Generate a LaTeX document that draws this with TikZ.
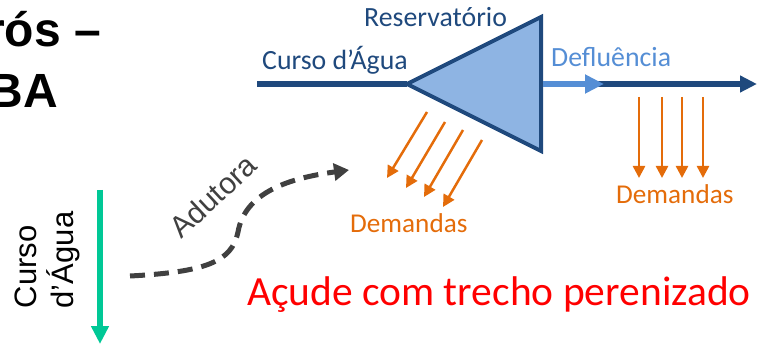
\documentclass[tikz,border=0pt]{standalone}
\usepackage{fontspec}
\setmainfont{Carlito}
\newfontfamily\arialf{Liberation Sans}
\usetikzlibrary{arrows.meta}
\definecolor{dkblue}{RGB}{31,73,125}
\definecolor{trifill}{RGB}{142,180,227}
\definecolor{ltblue}{RGB}{85,142,213}
\definecolor{dmorange}{RGB}{228,108,10}
\definecolor{mint}{RGB}{0,200,150}
\definecolor{dgray}{RGB}{64,64,64}
\tikzset{
  lbl/.style={inner sep=0pt, anchor=base west},
  cal/.style={font=\fontsize{27.8}{30}\selectfont},
  demarrow/.style={dmorange, line width=2.5pt, -{Triangle[length=12pt,width=12pt]}},
}
\begin{document}
\begin{tikzpicture}[x=1pt,y=-1pt]
\useasboundingbox (0,0) rectangle (767,347);
\clip (0,0) rectangle (767,347);
% title fragment
\node[inner sep=0pt, anchor=base east, font=\arialf\bfseries\fontsize{48}{48}\selectfont] (t1) at (101,47) {rós –};
\node[inner sep=0pt, anchor=base east, font=\arialf\bfseries\fontsize{48}{48}\selectfont] (t2) at (58,108) {BA};
% reservoir
\coordinate (L) at (407,84);
\coordinate (TR) at (541,17);
\coordinate (BR) at (541,151);
\coordinate (W) at (257,84);
\coordinate (E0) at (598,84);
\coordinate (E1) at (757,84);
\coordinate (D0) at (543,84);
\coordinate (D1) at (604,84);
\draw[dkblue, line width=6pt] (W) -- (L);
\filldraw[fill=trifill, draw=dkblue, line width=4pt, line join=miter] (L) -- (TR) -- (BR) -- cycle;
\draw[dkblue, line width=6pt, -{Triangle[length=17pt,width=16pt]}] (E0) -- (E1);
\draw[ltblue, line width=6pt, -{Triangle[length=19pt,width=18pt]}] (D0) -- (D1);
\node[lbl, cal, text=dkblue] (curso) at (262,70) {Curso d’Água};
\node[lbl, cal, text=dkblue] (res) at (364,27) {Reservatório};
\node[lbl, cal, text=ltblue] (defl) at (551,67) {Defluência};
% demand arrows left
\foreach \i/\sx/\sy/\ex/\ey in {1/427/112/387/178, 2/445/122/406/188, 3/463/130/424/197, 4/482/140/443/207}{
  \coordinate (ls\i) at (\sx,\sy);
  \coordinate (le\i) at (\ex,\ey);
  \draw[demarrow] (ls\i) -- (le\i);
}
\node[lbl, font=\fontsize{27.2}{30}\selectfont, text=dmorange] (dem1) at (350,232) {Demandas};
% demand arrows right
\foreach \i/\x in {1/639, 2/662, 3/682, 4/703}{
  \coordinate (rs\i) at (\x,97);
  \coordinate (re\i) at (\x,178);
  \draw[demarrow] (rs\i) -- (re\i);
}
\node[lbl, font=\fontsize{27.2}{30}\selectfont, text=dmorange] (dem2) at (616,204) {Demandas};
% green stream
\coordinate (G0) at (100,190);
\coordinate (G1) at (100,344);
\draw[mint, line width=6pt, -{Triangle[length=18pt,width=17pt]}] (G0) -- (G1);
\node[rotate=90, inner sep=0pt, align=left, font=\arialf\fontsize{31}{37}\selectfont] (cursov) at (47,260) {Curso\\d’Água};
% adutora
\coordinate (A0) at (130,276);
\coordinate (A1) at (349,170);
\draw[dgray, line width=5pt, dash pattern=on 15pt off 9pt, -{Triangle[length=15pt,width=17pt]}]
  (A0) .. controls (205,272) and (232,262) .. (238,232) .. controls (245,192) and (290,178) .. (A1);
\node[rotate=43, inner sep=0pt, text=dgray, font=\arialf\fontsize{30}{32}\selectfont] (adut) at (213,196) {Adutora};
% caption
\node[lbl, text=red, font=\fontsize{41.5}{44}\selectfont] (cap) at (247,305) {Açude com trecho perenizado};
\end{tikzpicture}
\end{document}
